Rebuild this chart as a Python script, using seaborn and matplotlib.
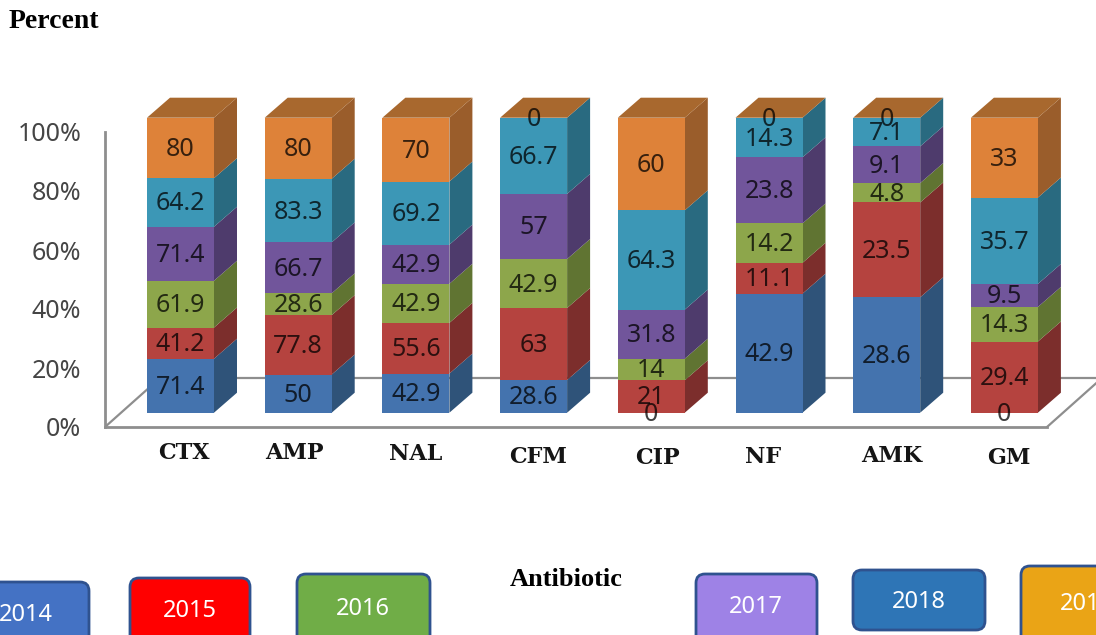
import numpy as np
import pandas as pd
import seaborn as sns
import matplotlib.pyplot as plt
from matplotlib.patches import FancyBboxPatch
from matplotlib.transforms import IdentityTransform, ScaledTranslation

antibiotics = ['CTX', 'AMP', 'NAL', 'CFM', 'CIP', 'NF', 'AMK', 'GM']
years = ['2014', '2015', '2016', '2017', '2018', '2019']

v2014 = [71.4, 50, 42.9, 28.6, 0, 42.9, 28.6, 0]
v2015 = [41.2, 77.8, 55.6, 63, 21, 11.1, 23.5, 29.4]
v2016 = [61.9, 28.6, 42.9, 42.9, 14, 14.2, 4.8, 14.3]
v2017 = [71.4, 66.7, 42.9, 57, 31.8, 23.8, 9.1, 9.5]
v2018 = [64.2, 83.3, 69.2, 66.7, 64.3, 14.3, 7.1, 35.7]
v2019 = [80, 80, 70, 0, 60, 0, 0, 33]

front_colors = ['#4473AE', '#B5433F', '#8DA64B', '#71559B', '#3C97B6', '#DE8239']
side_colors = ['#2F5379', '#7C2E2C', '#607432', '#4E3B6C', '#296A80', '#9A5D2B']
top_color = '#A8682E'
box_colors = ['#4472C4', '#FF0000', '#70AD47', '#9E82E6', '#2E75B6', '#EAA416']

sns.set_style('white')
plt.rcParams['font.family'] = ['Noto Sans', 'DejaVu Sans']

W, H = 1096, 635
fig = plt.figure(figsize=(W / 100, H / 100), dpi=100, facecolor='white')
ax = fig.add_axes([105 / W, (H - 427) / H, (W - 105) / W, (427 - 90) / H])

# pixel layout of the fake 3D box
px_per_cat = 117.7
px_per_pct = 2.95
y_floor = -(427 - 412.7) / px_per_pct
bar_w = 67 / px_per_cat
dx = 23 / px_per_cat
dy = 20 / px_per_pct

values = np.array([v2014, v2015, v2016, v2017, v2018, v2019], dtype=float)
pct = values / values.sum(axis=0) * 100
cum = np.cumsum(pct, axis=0)
lower = np.vstack([np.zeros(len(antibiotics)), cum[:-1]])

# back edge and sides of the floor
xmin, xmax = (105 - 180.5) / px_per_cat, (W - 180.5) / px_per_cat
x_right = (1047 - 180.5) / px_per_cat
y_back = (412.7 - 378) / px_per_pct
floor_dx = 55 / px_per_cat
grey = '#8E8E8E'
ax.plot([xmin + floor_dx, xmax], [y_back, y_back], color=grey, lw=1.6, zorder=1)
ax.plot([xmin, xmin + floor_dx], [y_floor, y_back], color=grey, lw=1.6, zorder=1)
ax.plot([x_right, x_right + floor_dx], [y_floor, y_back], color=grey, lw=1.6, zorder=1)

# front faces, tallest stack first so the lower ones sit on top
for k in range(len(years) - 1, -1, -1):
    df = pd.DataFrame({'antibiotic': antibiotics, 'pct': cum[k]})
    sns.barplot(data=df, x='antibiotic', y='pct', color=front_colors[k], saturation=1,
                width=bar_w, errorbar=None, linewidth=0, zorder=3, ax=ax)

# side and top faces
for i in range(len(antibiotics)):
    r = i + bar_w / 2
    l = i - bar_w / 2
    for k in range(len(years)):
        b, t = lower[k, i], cum[k, i]
        ax.fill([r, r + dx, r + dx, r], [b, b + dy, t + dy, t], color=side_colors[k], lw=0, zorder=2)
    ax.fill([l, l + dx, r + dx, r], [100, 100 + dy, 100 + dy, 100], color=top_color, lw=0, zorder=2)

# value labels
for k in range(len(years)):
    for i in range(len(antibiotics)):
        ax.text(i, (lower[k, i] + cum[k, i]) / 2 - 0.5, f'{values[k, i]:g}', ha='center', va='center',
                fontsize=18, color='black', alpha=0.75, zorder=5, clip_on=False)

ax.set_xlim(xmin, xmax)
ax.set_ylim(y_floor, (412.7 - 90) / px_per_pct)
ax.set_xlabel('')
ax.set_ylabel('')

sns.despine(ax=ax, top=True, right=True)
ax.spines['left'].set_bounds(y_floor, y_floor + 100)
ax.spines['bottom'].set_bounds(xmin, x_right)
for s in ['left', 'bottom']:
    ax.spines[s].set_color(grey)
    ax.spines[s].set_linewidth(2)

ax.set_yticks(y_floor + np.arange(0, 101, 20))
ax.set_yticklabels([f'{v}%' for v in range(0, 101, 20)], fontsize=18, color='#454545')
ax.tick_params(axis='y', length=0, pad=17)

ax.set_xticks(range(len(antibiotics)))
ax.set_xticklabels(antibiotics, fontsize=16, fontweight='bold', family='DejaVu Serif', color='#151515')
ax.tick_params(axis='x', length=0, pad=11)
label_dx = [3, -4, 0, 4, 6, -6, 5, 4]
label_dy = [0, 0, 1, 4, 5, 4, 3, 5]
for lab, ox, oy in zip(ax.get_xticklabels(), label_dx, label_dy):
    lab.set_transform(lab.get_transform() + ScaledTranslation(ox / 100, -oy / 100, fig.dpi_scale_trans))

# axis titles
fig.text(9 / W, 1 - 21 / H, 'Percent', family='Liberation Serif', fontweight='bold', fontsize=20,
         color='black', va='center')
fig.text(510 / W, 1 - 580 / H, 'Antibiotic', family='Liberation Serif', fontweight='bold', fontsize=19,
         color='black', va='center')

# year boxes below the chart
box_x = [-31, 130, 297, 696, 853, 1021]
box_w = [120, 120, 133, 121, 132, 130]
box_top = [582, 578, 574, 574, 570, 566]
box_bottom = [645, 645, 645, 645, 630, 645]
text_x = [26, 190, 363, 756, 919, 1087]
text_y = [615, 611, 609, 607, 602, 604]
tr = IdentityTransform()
for k, year in enumerate(years):
    fig.add_artist(FancyBboxPatch((box_x[k] + 9, H - box_bottom[k] + 9), box_w[k] - 18,
                                  box_bottom[k] - box_top[k] - 18,
                                  boxstyle='round,pad=9,rounding_size=9', transform=tr,
                                  facecolor=box_colors[k], edgecolor='#2F528F', linewidth=2))
    fig.add_artist(plt.Text(text_x[k], H - text_y[k], year, transform=tr, color='white', fontsize=17,
                            ha='center', va='center', family='Noto Sans'))

fig.savefig('out.png', dpi=100, facecolor='white')
